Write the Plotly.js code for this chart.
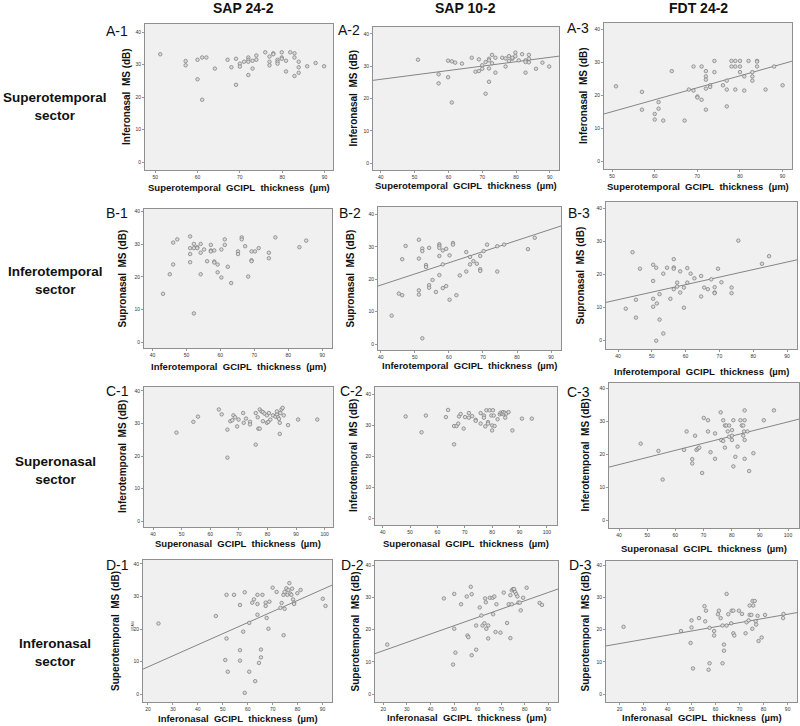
<!DOCTYPE html>
<html><head><meta charset="utf-8">
<script src="https://cdn.plot.ly/plotly-3.0.1.min.js"></script>
<style>html,body{margin:0;padding:0;background:#fff}#chart{width:800px;height:726px}</style>
</head><body><div id="chart"></div>
<script>
// ---------- DATA ----------
const COLUMN_TITLES = ['SAP 24-2', 'SAP 10-2', 'FDT 24-2'];
const ROW_TITLES = ['Superotemporal<br>sector', 'Inferotemporal<br>sector', 'Superonasal<br>sector', 'Inferonasal<br>sector'];
const PANEL_LABELS = ['A-1','A-2','A-3','B-1','B-2','B-3','C-1','C-2','C-3','D-1','D-2','D-3'];
const X_TITLES = ['Superotemporal\u00a0 GCIPL\u00a0 thickness\u00a0 (\u00b5m)', 'Inferotemporal\u00a0 GCIPL\u00a0 thickness\u00a0 (\u00b5m)', 'Superonasal\u00a0 GCIPL\u00a0 thickness\u00a0 (\u00b5m)', 'Inferonasal\u00a0 GCIPL\u00a0 thickness\u00a0 (\u00b5m)'];
const Y_TITLES = ['Inferonasal\u00a0 MS (dB)', 'Supronasal\u00a0 MS (dB)', 'Inferotemporal\u00a0 MS (dB)', 'Superotemporal\u00a0 MS (dB)'];

const A1_x = [51.2,57.2,57.2,60.0,61.1,62.1,60.0,61.1,64.1,67.1,68.0,69.1,69.1,70.0,70.0,71.0,72.0,72.0,72.0,72.0,73.0,73.0,73.9,73.9,76.0,77.0,77.0,77.0,77.9,77.9,78.9,78.9,78.9,79.9,79.9,79.9,80.9,80.9,81.9,82.9,82.9,82.9,83.9,83.9,83.9,85.9,87.9,89.9];
const A1_y = [33.2,31.1,29.8,31.5,32.2,32.2,25.5,19.2,28.8,31.5,29.2,31.8,23.8,30.3,29.4,30.9,32.2,31.5,30.9,26.8,31.2,28.8,32.8,31.5,33.8,32.5,30.9,29.8,33.5,33.2,31.5,30.9,30.3,33.8,32.2,31.8,31.2,27.9,33.8,33.5,32.2,26.5,30.9,29.2,27.5,29.5,30.5,29.5];

const A2_x = [51.0,57.1,57.1,59.9,61.0,62.0,59.9,61.0,64.0,66.9,68.0,69.0,69.0,70.0,70.0,71.0,71.0,72.0,72.0,72.0,72.0,72.9,72.9,73.9,73.9,75.9,76.9,76.9,77.9,77.9,78.9,78.9,79.8,79.8,80.8,81.8,82.8,82.8,82.8,83.8,83.8,83.8,85.9,87.8,89.8];
const A2_y = [32.0,27.5,24.7,31.7,31.5,31.1,26.6,18.8,30.8,32.6,28.3,32.1,28.5,30.3,29.2,31.3,21.5,32.3,31.8,29.3,25.2,33.5,30.9,32.6,28.0,32.6,32.4,29.9,33.1,31.6,32.3,32.6,34.2,33.1,31.8,33.7,31.8,31.3,28.0,33.5,32.3,31.2,29.2,31.1,29.9];
const A2_fit = [20.5, 0.136];   // [intercept, slope]

const A3_x = [50.9,57.0,57.0,60.0,60.0,60.9,60.9,62.0,64.0,67.0,68.0,69.1,69.1,70.0,70.0,71.0,71.0,72.0,72.0,72.0,72.0,72.0,73.0,73.0,74.0,74.0,76.0,76.9,76.9,76.9,78.0,78.0,78.9,78.9,78.9,80.0,80.0,80.0,81.0,81.0,82.0,82.9,82.9,82.9,84.0,84.0,84.0,86.0,88.0,90.0];
const A3_y = [22.8,21.1,15.7,14.4,12.7,18.0,16.0,12.4,27.4,12.4,21.8,21.5,28.8,19.7,19.4,28.8,18.7,27.4,25.8,24.8,22.1,15.7,23.1,22.6,30.5,27.1,23.1,24.5,21.8,16.7,30.5,28.8,30.5,28.8,21.8,30.5,28.8,27.1,25.8,21.5,30.5,27.1,25.8,24.5,30.5,30.3,28.8,21.8,28.8,23.1];
const A3_fit = [-3.06, 0.363];

const B1_x = [43.1,45.1,46.1,46.1,47.3,51.1,51.1,51.1,51.1,52.2,52.2,52.2,53.2,53.2,54.2,54.2,54.2,55.2,56.1,57.2,57.2,57.2,58.2,58.2,58.2,59.2,59.2,60.3,60.3,61.3,61.3,62.2,63.2,65.2,65.2,66.3,66.3,67.3,68.2,69.2,69.2,69.2,70.2,71.3,74.3,74.3,76.2,83.3,85.3];
const B1_y = [14.8,20.8,30.5,23.8,31.5,32.4,28.8,27.0,24.5,30.1,28.8,8.8,29.1,28.8,30.1,27.4,20.8,28.4,24.8,29.8,28.1,27.8,28.1,24.7,24.4,23.8,21.4,28.4,19.8,31.5,29.8,23.1,18.1,27.8,27.0,32.1,31.5,29.4,20.1,27.8,25.1,24.8,27.8,28.8,27.4,25.7,32.1,29.1,31.1];

const B2_x = [43.2,45.3,46.3,46.3,47.3,51.2,51.2,51.2,51.2,52.2,52.2,52.2,53.3,53.3,54.2,54.2,54.2,55.2,56.2,57.2,57.2,57.2,57.2,57.2,58.2,58.2,58.2,59.2,59.2,60.2,60.2,61.2,61.2,62.2,63.2,65.1,65.1,66.2,66.2,67.2,68.2,69.2,69.2,69.2,70.2,71.2,74.2,74.2,76.2,83.2,85.2];
const B2_y = [8.8,15.6,26.2,15.1,30.3,32.2,26.4,16.6,15.3,29.5,28.7,1.8,24.4,23.8,29.7,18.2,17.4,19.8,16.1,30.8,30.3,29.7,27.2,21.3,28.9,24.6,17.3,29.4,17.9,27.4,13.7,31.2,30.7,15.1,21.2,28.4,22.4,26.9,24.6,25.6,24.8,27.2,23.1,22.6,28.7,30.7,30.2,22.4,30.7,29.3,32.8];
const B2_fit = [4.4, 0.345];

const B3_x = [42.3,44.3,45.3,45.3,46.5,50.4,50.4,50.4,50.4,51.3,51.5,52.3,52.3,53.4,53.4,51.3,54.5,55.5,56.5,56.5,56.5,56.5,57.5,57.5,58.4,58.4,59.5,59.5,60.5,60.5,61.5,62.6,64.6,64.6,65.5,66.6,67.6,68.6,68.6,68.6,69.6,70.6,73.6,73.6,75.6,82.6,84.7];
const B3_y = [9.7,26.8,12.4,7.0,21.8,23.0,18.1,12.7,10.3,22.1,11.3,14.1,6.4,20.3,2.2,0.0,22.1,12.7,24.7,22.2,21.8,15.6,17.6,16.4,21.0,14.6,16.1,10.0,22.0,17.6,20.3,18.9,19.6,13.4,16.1,15.6,18.6,16.2,14.6,14.4,21.8,17.7,16.1,14.4,30.3,23.3,25.6];
const B3_fit = [3.3, 0.228];

const C1_x = [48.2,54.1,55.7,63.0,64.0,66.0,66.0,67.0,67.7,68.1,68.7,69.4,69.9,71.5,71.7,72.5,73.9,73.9,75.9,75.9,76.6,76.8,77.3,77.3,77.9,78.4,78.4,79.0,79.8,79.8,80.3,80.5,81.0,81.9,82.8,83.3,83.3,83.7,84.0,84.3,84.3,84.5,84.9,85.3,85.7,87.2,90.7,97.4];
const C1_y = [27.2,30.5,32.1,34.3,32.8,28.1,19.5,30.7,31.0,32.5,31.9,29.1,31.2,33.2,30.2,31.5,30.5,29.7,33.2,23.5,31.9,28.4,28.4,34.3,33.7,33.5,30.7,33.0,32.5,30.2,30.5,33.2,31.2,32.5,32.1,32.8,33.7,31.9,31.4,30.2,26.8,33.2,34.3,34.8,32.5,29.5,31.2,31.2];

const C2_x = [48.4,54.2,55.8,63.1,63.9,66.1,66.1,67.0,67.6,67.9,68.5,69.6,70.1,71.5,71.5,72.7,74.0,74.0,75.8,75.8,77.0,77.0,77.5,77.9,78.5,78.5,79.1,79.7,80.0,80.0,80.3,80.6,80.9,82.0,82.8,83.1,83.6,84.0,84.2,84.6,84.8,85.2,86.0,87.4,90.9,94.5];
const C2_y = [32.9,27.8,33.2,32.7,35.0,29.8,23.9,29.8,30.6,32.9,33.7,29.0,32.7,34.0,32.5,33.0,31.8,31.5,34.0,30.6,33.2,32.5,29.7,34.9,31.1,30.6,34.9,33.2,30.0,28.4,34.9,33.2,29.8,32.0,33.6,34.1,33.8,34.3,33.6,34.1,32.5,33.8,34.3,28.4,32.2,32.2];

const C3_x = [47.7,54.0,55.5,63.1,64.0,66.0,66.0,67.0,67.5,68.0,68.5,69.5,70.1,71.6,71.6,72.5,74.1,74.1,76.1,76.3,77.0,77.0,77.6,77.6,78.1,78.6,79.1,79.1,80.1,80.1,80.1,80.6,80.6,81.3,82.1,83.1,83.6,84.1,84.1,84.4,84.6,84.6,84.6,84.6,85.6,86.2,87.7,91.4,95.0];
const C3_y = [23.3,21.1,12.4,21.4,27.0,18.6,17.3,25.7,21.4,21.8,22.1,14.4,31.1,30.4,27.0,20.7,26.4,18.7,32.8,24.4,30.4,24.1,22.1,28.8,28.8,27.0,28.8,25.4,27.4,25.7,24.4,30.4,16.4,19.3,22.4,30.4,28.8,28.8,25.7,27.0,30.4,33.4,24.4,18.7,27.0,15.0,20.4,30.4,33.4];
const C3_fit = [8.3, 0.216];

const D1_x = [24.2,47.2,51.5,51.5,51.0,52.0,54.5,56.9,56.9,56.9,58.8,58.2,58.8,60.6,60.6,61.8,62.5,63.0,63.9,63.9,63.9,64.5,65.3,65.3,65.9,67.2,67.2,67.6,68.3,68.7,70.0,71.6,73.1,73.6,74.3,74.4,74.8,74.8,75.5,75.9,76.3,76.7,77.1,77.5,77.8,78.2,78.6,78.6,79.9,81.2,90.1,91.2];
const D1_y = [21.7,24.0,30.5,17.1,10.5,6.9,30.5,27.4,13.5,10.3,31.3,19.2,0.4,21.9,6.9,28.1,29.1,4.0,30.5,27.7,24.4,9.6,13.7,11.3,30.5,28.1,27.1,23.4,20.1,28.4,32.7,31.4,26.5,28.0,30.5,18.1,31.4,26.2,32.5,30.5,32.0,34.1,30.9,30.5,32.4,29.1,28.1,27.7,31.0,32.0,29.3,27.1];
const D1_fit = [1.58, 0.340];

const D2_x = [21.7,45.7,50.1,50.1,50.6,49.6,53.0,55.4,55.7,56.1,57.1,57.5,57.5,59.4,59.4,60.9,61.6,62.1,62.9,63.2,63.5,63.7,64.5,64.5,65.2,66.4,66.6,67.1,67.6,68.0,69.7,71.1,72.5,73.2,73.9,73.9,74.5,74.5,75.0,75.5,75.9,76.4,76.9,77.3,77.9,78.3,79.3,80.8,86.3,87.3];
const D2_y = [15.4,29.7,31.1,20.3,12.9,9.2,27.9,30.3,18.2,17.7,33.3,31.0,12.1,21.3,13.8,26.9,24.4,21.3,22.0,29.7,28.5,20.3,21.3,17.3,29.9,29.9,24.8,30.3,19.3,27.9,19.1,31.5,22.1,27.9,30.7,17.4,27.9,32.2,32.6,32.6,31.7,31.0,30.3,28.4,28.4,26.0,29.9,33.0,28.3,27.7];
const D2_fit = [8.34, 0.258];

const D3_x = [21.7,45.6,49.6,50.0,50.0,50.6,53.1,55.4,55.7,56.0,57.1,57.5,57.5,59.4,59.4,61.0,61.4,62.1,62.9,62.9,63.5,63.5,64.6,64.6,65.3,66.5,66.7,67.4,67.4,67.8,69.7,71.0,72.5,72.9,73.8,74.2,74.2,74.9,75.3,75.4,75.7,76.3,76.7,76.9,77.5,77.9,79.2,80.6,88.1,88.3];
const D3_y = [20.9,19.6,15.9,22.9,20.7,8.0,23.6,27.3,22.6,25.9,7.6,20.6,9.6,19.6,18.2,24.8,25.9,23.6,9.6,21.3,15.4,13.5,31.1,21.3,24.8,22.0,25.9,25.9,18.9,18.2,25.9,24.9,18.9,22.3,22.9,24.6,27.5,24.6,20.3,28.9,27.5,28.9,22.6,21.6,24.3,16.5,17.6,24.6,23.6,24.9];
const D3_fit = [13.1, 0.130];

// ---------- LAYOUT (pixel boxes: left, top, right, bottom) ----------
const W = 800, H = 726;
const FONT = 'Arial, "Liberation Sans", Helvetica, sans-serif';
const panels = [
  {xs:A1_x, ys:A1_y, fit:null,   box:[145,24,333,170], xr:[47.6,92.0],  yr:[-2.4,42.5], lp:[117,31]},
  {xs:A2_x, ys:A2_y, fit:A2_fit, box:[373,27,559,170], xr:[37.7,92.7],  yr:[-2.05,42.1], lp:[349,30]},
  {xs:A3_x, ys:A3_y, fit:A3_fit, box:[604,23,792,169], xr:[48.1,92.2],  yr:[-2.3,42.0], lp:[578,28]},
  {xs:B1_x, ys:B1_y, fit:null,   box:[144,209,332,348], xr:[37.5,92.9], yr:[-1.8,40.8], lp:[117,213]},
  {xs:B2_x, ys:B2_y, fit:B2_fit, box:[378,207,561,350], xr:[39.2,92.9], yr:[-1.8,42.3], lp:[350,213]},
  {xs:B3_x, ys:B3_y, fit:B3_fit, box:[606,202,797,349], xr:[36.45,92.96], yr:[-2.5,42.0], lp:[579,213]},
  {xs:C1_x, ys:C1_y, fit:null,   box:[144,387,333,527], xr:[36.85,102.9], yr:[-1.8,41.2], lp:[117,391]},
  {xs:C2_x, ys:C2_y, fit:null,   box:[375,387,557,525], xr:[37.2,103.7], yr:[-2.1,42.4], lp:[351,391]},
  {xs:C3_x, ys:C3_y, fit:C3_fit, box:[609,383,799,528], xr:[36.45,103.9], yr:[-2.3,41.7], lp:[578,392]},
  {xs:D1_x, ys:D1_y, fit:D1_fit, box:[143,560,332,702], xr:[18.0,93.8], yr:[-2.4,41.2], lp:[117,565]},
  {xs:D2_x, ys:D2_y, fit:D2_fit, box:[375,561,558,702], xr:[16.5,94.1], yr:[-2.4,41.3], lp:[352,565]},
  {xs:D3_x, ys:D3_y, fit:D3_fit, box:[606,561,797,702], xr:[14.4,93.9], yr:[-2.4,41.3], lp:[580,565]}
];
const colHeaderPos = [[243,8],[465,8],[698,8]];
const rowLabelPos = [[55,106],[55,280],[55,470],[55,652]];
const yTitleX = [[127,353,583],[122,350,580],[122,353,585],[115,355,585]];
const xTitleY = [[188,185,186],[367,365,371],[543,543,548],[718,717,717]];

const px = v => v / W, py = v => 1 - v / H;
const traces = [];
const layout = {
  width: W, height: H, margin: {l:0, r:0, t:0, b:0},
  paper_bgcolor: '#ffffff', plot_bgcolor: '#f0f0f0',
  showlegend: false, font: {family: FONT, color: '#1a1a1a'},
  annotations: []
};
function ann(text, x, y, size, bold, extra) {
  layout.annotations.push(Object.assign({
    text: bold ? '<b>' + text + '</b>' : text, xref: 'paper', yref: 'paper',
    x: px(x), y: py(y), xanchor: 'center', yanchor: 'middle', showarrow: false,
    font: {family: FONT, size: size, color: '#111'}
  }, extra || {}));
}

panels.forEach((p, i) => {
  const n = i === 0 ? '' : String(i + 1);
  const [l, t, r, b] = p.box;
  const row = Math.floor(i / 3), col = i % 3;
  const axCommon = {
    showgrid: false, zeroline: false, showline: true, mirror: true,
    linecolor: '#8f8f8f', linewidth: 1, ticks: 'outside', ticklen: 2, tickwidth: 0.6,
    tickcolor: '#555', tickfont: {family: FONT, size: 5, color: '#333'},
    dtick: 10, tick0: 0, fixedrange: true
  };
  layout['xaxis' + n] = Object.assign({}, axCommon, {domain: [px(l), px(r)], range: p.xr, anchor: 'y' + n});
  layout['yaxis' + n] = Object.assign({}, axCommon, {domain: [py(b), py(t)], range: p.yr, anchor: 'x' + n});
  if (p.fit) {
    traces.push({
      x: [p.xr[0], p.xr[1]], y: [p.fit[0] + p.fit[1] * p.xr[0], p.fit[0] + p.fit[1] * p.xr[1]],
      xaxis: 'x' + n, yaxis: 'y' + n, mode: 'lines', hoverinfo: 'skip',
      line: {color: '#858585', width: 1}
    });
  }
  traces.push({
    x: p.xs, y: p.ys, xaxis: 'x' + n, yaxis: 'y' + n, mode: 'markers', type: 'scatter',
    marker: {symbol: 'circle', size: 3.5, color: '#dadada', line: {color: '#777777', width: 0.7}}
  });
  ann(PANEL_LABELS[i], p.lp[0], p.lp[1], 14, false);
  ann(Y_TITLES[row], yTitleX[row][col], (t + b) / 2, 10, true, {textangle: -90});
  ann(X_TITLES[row], (l + r) / 2, xTitleY[row][col], 9.5, true);
});
COLUMN_TITLES.forEach((c, j) => ann(c, colHeaderPos[j][0], colHeaderPos[j][1], 14, true));
ROW_TITLES.forEach((r, k) => ann(r, rowLabelPos[k][0], rowLabelPos[k][1], 13.5, true));
ann('SITAIN', 133, 627, 3, false, {textangle: -90, font: {family: FONT, size: 3, color: '#333'}});

Plotly.newPlot('chart', traces, layout, {staticPlot: true, displayModeBar: false});
</script>
</body></html>
